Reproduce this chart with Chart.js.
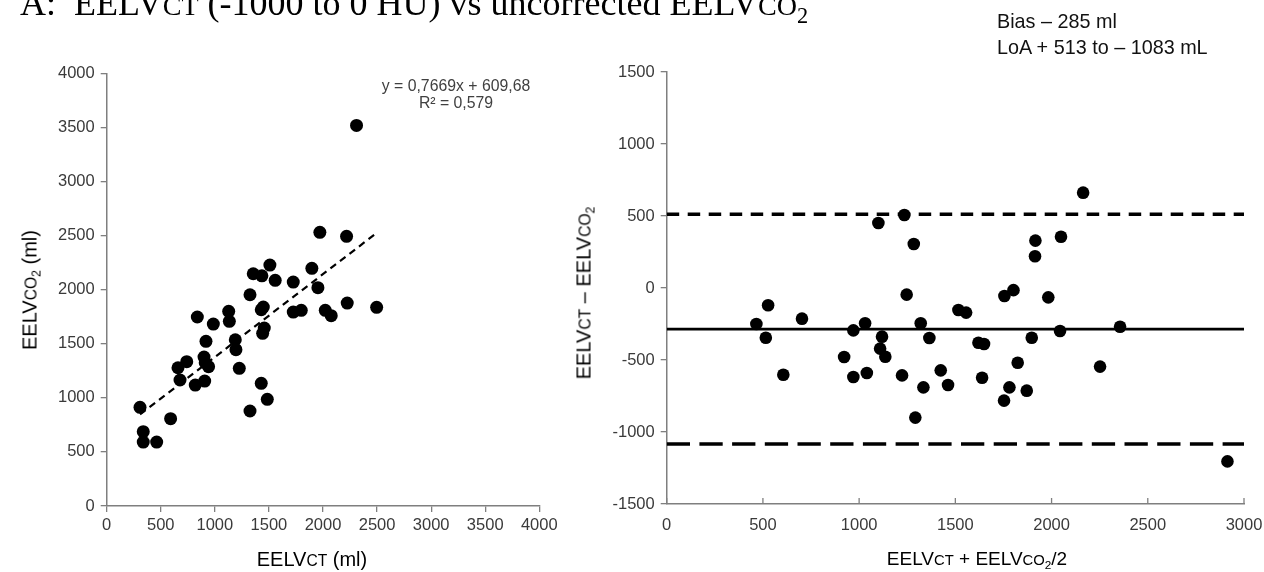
<!DOCTYPE html>
<html>
<head>
<meta charset="utf-8">
<script src="https://cdn.jsdelivr.net/npm/chart.js@4.4.1/dist/chart.umd.min.js"></script>
<style>
	html, body { margin: 0; padding: 0; background: #fff; }
	body { width: 1264px; height: 572px; position: relative; overflow: hidden; font-family: "Liberation Sans", Arial, sans-serif; }
	#wrapLeft { position: absolute; left: 0; top: 0; width: 600px; height: 572px; }
	#wrapRight { position: absolute; left: 560px; top: 0; width: 704px; height: 572px; }
	.txt { position: absolute; white-space: nowrap; color: #000; }
	.sc { font-size: 0.78em; }
	.sub { font-size: 0.62em; position: relative; top: 0.35em; }
	.rot { transform: translate(-50%, -50%) rotate(-90deg); }
	.cen { transform: translateX(-50%); }
</style>
</head>
<body>
<div id="wrapLeft"><canvas id="chartLeft" width="600" height="572"></canvas></div>
<div id="wrapRight"><canvas id="chartRight" width="704" height="572"></canvas></div>

<div class="txt" style="left:20px; top:-15px; font-family:'Liberation Serif', serif; font-size:36px; line-height:36px;">A:&nbsp; EELV<span class="sc">CT</span> (-1000 to 0 HU) vs uncorrected EELV<span class="sc">CO</span><span class="sub">2</span></div>

<div class="txt" style="left:997px; top:8px; font-size:19.8px; line-height:26px; color:#111;">Bias – 285 ml<br>LoA + 513 to – 1083 mL</div>

<div class="txt" style="left:356px; width:200px; top:77px; font-size:15.8px; line-height:17px; color:#404040; text-align:center;">y = 0,7669x + 609,68<br>R² = 0,579</div>

<div class="txt cen" style="left:312px; top:549px; font-size:20px; line-height:20px;">EELV<span class="sc">CT</span> (ml)</div>
<div class="txt cen" style="left:977px; top:549px; font-size:19px; line-height:20px;">EELV<span class="sc">CT</span> + EELV<span class="sc">CO</span><span class="sub">2</span>/2</div>
<div class="txt rot" style="left:31px; top:290px; font-size:20px; line-height:20px;">EELV<span class="sc">CO</span><span class="sub">2</span> (ml)</div>
<div class="txt rot" style="left:585px; top:293px; font-size:20px; line-height:20px;">EELV<span class="sc">CT</span> – EELV<span class="sc">CO</span><span class="sub">2</span></div>

<script>
	'use strict';

	// left panel: EELV CT vs uncorrected EELV CO2 (ml)
	const ctVolumes = [2310, 1971, 2218, 1509, 1355, 1435, 1558, 1725, 1897, 1953,
		1325, 1448, 1429, 1725, 1799, 2021, 2076, 2224, 2496, 838,
		1128, 1134, 986, 918, 1189, 1195, 900, 911, 942, 740,
		659, 678, 819, 906, 1226, 1429, 1485, 1325, 1457, 1442,
		308, 338, 338, 462, 591];
	const co2Volumes = [3518, 2530, 2493, 2227, 2147, 2128, 2086, 2070, 2197, 2018,
		1953, 1839, 1814, 1793, 1809, 1809, 1759, 1876, 1837, 1747,
		1800, 1707, 1682, 1522, 1537, 1445, 1377, 1325, 1288, 1334,
		1278, 1165, 1118, 1155, 1273, 1134, 986, 878, 1645, 1596,
		912, 687, 591, 591, 807];
	const trendX = [308, 2500];
	const trendY = [846, 2527];

	// right panel: Bland-Altman
	const meanVolumes = [2164, 1235, 1100, 1284, 1916, 1914, 2049, 1247, 527, 1755,
		1802, 1983, 1516, 1556, 703, 466, 1031, 1320, 515, 970,
		1119, 1109, 1136, 922, 1365, 1620, 1649, 1897, 2044, 2356,
		606, 970, 1040, 1223, 1424, 1639, 1824, 2252, 1334, 1462,
		1781, 1871, 1753, 1292, 2914];
	const diffVolumes = [662, 507, 451, 306, 329, 220, 356, -46, -120, -56,
		-15, -65, -153, -171, -213, -250, -245, -245, -345, -294,
		-338, -421, -477, -479, -347, -380, -389, -345, -299, -269,
		-602, -618, -590, -607, -572, -623, -519, -546, -690, -674,
		-690, -713, -782, -900, -1204];
	const biasValue = [-285];
	const loaUpper = [513];
	const loaLower = [-1083];

	const leftXTicks = [0, 500, 1000, 1500, 2000, 2500, 3000, 3500, 4000];
	const leftYTicks = [0, 500, 1000, 1500, 2000, 2500, 3000, 3500, 4000];
	const rightXTicks = [0, 500, 1000, 1500, 2000, 2500, 3000];
	const rightYTicks = [-1500, -1000, -500, 0, 500, 1000, 1500];

	const axisGrey = '#7f7f7f';
	const tickFont = { family: 'Liberation Sans', size: 16.5 };
	const tickColor = '#3a3a3a';

	const toPoints = function (xs, ys) {
		return xs.map(function (x, i) { return { x: x, y: ys[i] }; });
	};

	const hLine = function (xTicks, value) {
		return [{ x: xTicks[0], y: value }, { x: xTicks[xTicks.length - 1], y: value }];
	};

	const fixedTicks = function (list) {
		return function (scale) {
			scale.ticks = list.map(function (v) { return { value: v }; });
		};
	};

	const plainLabel = function (v) { return String(v); };

	// pin the axis boxes so the plot areas sit where the picture has them
	const fitX = function (h) {
		return function (s) { s.height = h; s.paddingLeft = 0; s.paddingRight = 0; };
	};
	const fitY = function (w) {
		return function (s) { s.width = w; s.paddingTop = 0; s.paddingBottom = 0; };
	};

	// right panel has its x tick marks pointing into the plot
	const innerXTicks = {
		id: 'innerXTicks',
		afterDraw(chart) {
			const xs = chart.scales.x;
			const ctx = chart.ctx;
			const bottom = chart.chartArea.bottom;
			ctx.save();
			ctx.strokeStyle = axisGrey;
			ctx.lineWidth = 1.3;
			xs.ticks.forEach(function (t) {
				const px = xs.getPixelForValue(t.value);
				ctx.beginPath();
				ctx.moveTo(px, bottom);
				ctx.lineTo(px, bottom - 6);
				ctx.stroke();
			});
			ctx.restore();
		}
	};

	Chart.defaults.animation = false;
	Chart.defaults.font.family = 'Liberation Sans';

	new Chart(document.getElementById('chartLeft'), {
		type: 'scatter',
		data: {
			datasets: [
				{
					data: toPoints(ctVolumes, co2Volumes),
					backgroundColor: '#000',
					borderWidth: 0,
					pointRadius: 6.5,
					pointHoverRadius: 6.5,
					clip: false
				},
				{
					data: toPoints(trendX, trendY),
					showLine: true,
					borderColor: '#000',
					borderWidth: 2.2,
					borderDash: [7, 5],
					pointRadius: 0,
					fill: false,
					clip: false
				}
			]
		},
		options: {
			responsive: false,
			devicePixelRatio: 1,
			layout: { padding: { top: 73.3, right: 60.7, bottom: 0, left: 0 } },
			plugins: { legend: { display: false }, tooltip: { enabled: false } },
			scales: {
				x: {
					type: 'linear',
					min: 0,
					max: 4000,
					afterBuildTicks: fixedTicks(leftXTicks),
					afterFit: fitX(66),
					ticks: { color: tickColor, font: tickFont, padding: 4, maxRotation: 0, autoSkip: false, callback: plainLabel },
					grid: { drawOnChartArea: false, drawTicks: true, tickLength: 6, color: axisGrey, lineWidth: 1.3 },
					border: { display: true, color: axisGrey, width: 1.5 }
				},
				y: {
					type: 'linear',
					min: 0,
					max: 4000,
					afterBuildTicks: fixedTicks(leftYTicks),
					afterFit: fitY(106.7),
					ticks: { color: tickColor, font: tickFont, padding: 6, autoSkip: false, callback: plainLabel },
					grid: { drawOnChartArea: false, drawTicks: true, tickLength: 6, color: axisGrey, lineWidth: 1.3 },
					border: { display: true, color: axisGrey, width: 1.5 }
				}
			}
		}
	});

	new Chart(document.getElementById('chartRight'), {
		type: 'scatter',
		data: {
			datasets: [
				{
					data: toPoints(meanVolumes, diffVolumes),
					backgroundColor: '#000',
					borderWidth: 0,
					pointRadius: 6.3,
					pointHoverRadius: 6.3,
					clip: false
				},
				{
					data: hLine(rightXTicks, loaUpper[0]),
					showLine: true,
					borderColor: '#000',
					borderWidth: 3.5,
					borderDash: [12.5, 8.5],
					pointRadius: 0
				},
				{
					data: hLine(rightXTicks, biasValue[0]),
					showLine: true,
					borderColor: '#000',
					borderWidth: 2.8,
					pointRadius: 0
				},
				{
					data: hLine(rightXTicks, loaLower[0]),
					showLine: true,
					borderColor: '#000',
					borderWidth: 3.4,
					borderDash: [23.3, 9.4],
					pointRadius: 0
				}
			]
		},
		options: {
			responsive: false,
			devicePixelRatio: 1,
			layout: { padding: { top: 72, right: 20, bottom: 0, left: 0 } },
			plugins: { legend: { display: false }, tooltip: { enabled: false } },
			scales: {
				x: {
					type: 'linear',
					min: 0,
					max: 3000,
					afterBuildTicks: fixedTicks(rightXTicks),
					afterFit: fitX(68),
					ticks: { color: tickColor, font: tickFont, padding: 12, maxRotation: 0, autoSkip: false, callback: plainLabel },
					grid: { drawOnChartArea: false, drawTicks: false, color: axisGrey },
					border: { display: true, color: axisGrey, width: 1.5 }
				},
				y: {
					type: 'linear',
					min: -1500,
					max: 1500,
					afterBuildTicks: fixedTicks(rightYTicks),
					afterFit: fitY(106.7),
					ticks: { color: tickColor, font: tickFont, padding: 6, autoSkip: false, callback: plainLabel },
					grid: { drawOnChartArea: false, drawTicks: true, tickLength: 6, color: axisGrey, lineWidth: 1.3 },
					border: { display: true, color: axisGrey, width: 1.5 }
				}
			}
		},
		plugins: [innerXTicks]
	});
</script>
</body>
</html>
